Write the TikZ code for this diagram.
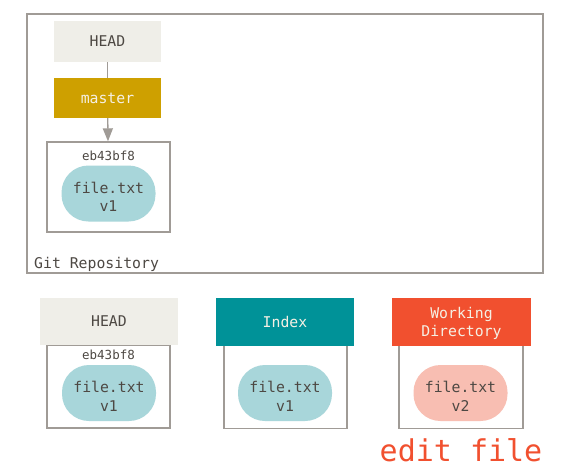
\documentclass[tikz,border=0pt]{standalone}
\usepackage{fontspec}
\setmainfont{DejaVu Sans Mono}
\usetikzlibrary{arrows.meta}
\definecolor{headfill}{RGB}{239,238,232}
\definecolor{masterfill}{RGB}{206,160,0}
\definecolor{indexfill}{RGB}{0,146,152}
\definecolor{wdfill}{RGB}{241,80,47}
\definecolor{blobblue}{RGB}{168,214,218}
\definecolor{blobpink}{RGB}{248,190,178}
\definecolor{bordergrey}{RGB}{160,155,150}
\definecolor{textdark}{RGB}{77,72,67}
\definecolor{textlight}{RGB}{245,240,228}
\tikzset{
  txt/.style={font=\fontsize{14.8}{18.5}\selectfont, text=textdark},
  hdr/.style={rectangle, inner sep=0pt, txt, align=center},
  framebox/.style={rectangle, draw=bordergrey, line width=1.4pt, inner sep=0pt, fill=white},
  blob/.style={rectangle, rounded corners=27pt, inner sep=0pt, minimum width=94pt, minimum height=56pt},
  blobtext/.style={txt, align=center, inner sep=0pt},
  hash/.style={font=\fontsize{12.5}{15}\selectfont, text=textdark, inner sep=0pt},
}
\begin{document}
\begin{tikzpicture}[x=1pt,y=-1pt]
\useasboundingbox (0,0) rectangle (587,469);
% Git repository
\node[framebox, minimum width=516pt, minimum height=259pt] (repo) at (285,143.5) {};
\node[txt, anchor=west, inner sep=0pt] (repolabel) at (34,264) {Git Repository};
\node[hdr, fill=headfill, minimum width=107pt, minimum height=41pt] (head1) at (107.5,41.5) {HEAD};
\node[hdr, fill=masterfill, text=textlight, minimum width=107pt, minimum height=40pt] (master) at (107.5,98) {master};
\node[framebox, minimum width=123pt, minimum height=90pt] (commit) at (108.5,187) {};
\node[hash] (hash1) at (108.5,156) {eb43bf8};
\node[blob, fill=blobblue] (blob1) at (108.5,193.5) {};
\node[blobtext] (blob1t) at (108.5,197) {file.txt\\v1};
\draw[bordergrey, line width=1.4pt] (head1) -- (master);
\draw[bordergrey, line width=1.4pt, -{Triangle[length=13pt,width=10pt]}] (master) -- (commit);
% HEAD tree
\node[framebox, minimum width=123pt, minimum height=83pt] (box2) at (108.5,386.5) {};
\node[hdr, fill=headfill, minimum width=138pt, minimum height=47pt] (head2) at (109,321.5) {HEAD};
\node[hash] (hash2) at (108.5,355) {eb43bf8};
\node[blob, fill=blobblue] (blob2) at (109,393) {};
\node[blobtext] (blob2t) at (109,396.5) {file.txt\\v1};
% Index
\node[framebox, minimum width=123pt, minimum height=83pt] (box3) at (285.5,387) {};
\node[hdr, fill=indexfill, text=textlight, minimum width=138pt, minimum height=48pt] (index) at (285,322) {Index};
\node[blob, fill=blobblue] (blob3) at (285,393) {};
\node[blobtext] (blob3t) at (285,396.5) {file.txt\\v1};
% Working directory
\node[framebox, minimum width=124pt, minimum height=83pt] (box4) at (461,387) {};
\node[hdr, fill=wdfill, minimum width=139pt, minimum height=48pt] (wd) at (461.5,322) {};
\node[blobtext, text=textlight] (wdt) at (461.5,323.5) {Working\\Directory};
\node[blob, fill=blobpink] (blob4) at (460.5,393) {};
\node[blobtext] (blob4t) at (460.5,396.5) {file.txt\\v2};
\node[font=\fontsize{30}{36}\selectfont, text=wdfill, inner sep=0pt] (edit) at (461,450) {edit file};
\end{tikzpicture}
\end{document}
